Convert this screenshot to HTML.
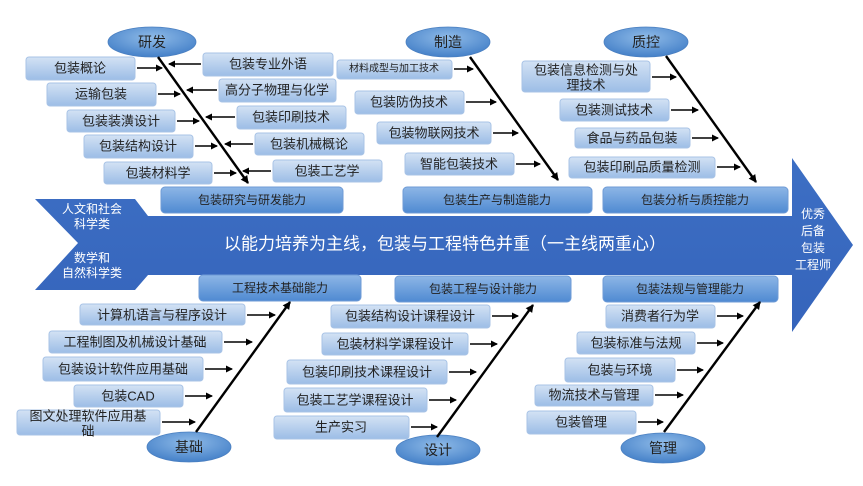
<!DOCTYPE html>
<html><head><meta charset="utf-8">
<style>
html,body{margin:0;padding:0;background:#fff;}
svg{display:block;font-family:"Liberation Sans","Noto Sans CJK SC",sans-serif;}
.b{fill:url(#gb);stroke:#a8c3e6;stroke-width:1;}
.c{fill:url(#gc);stroke:#6f9bd6;stroke-width:1;}
.e{fill:url(#ge);stroke:#4a7fc0;stroke-width:0.8;}
text{fill:#222;text-anchor:middle;dominant-baseline:central;}
.t{font-size:13px;}
.s{font-size:12px;}
.k{font-size:12px;}
.w{fill:#fff;}
.l{stroke:#000;stroke-width:2.4;fill:none;marker-end:url(#ah);}
.a{stroke:#000;stroke-width:1.6;fill:none;marker-end:url(#as);}
</style></head><body>
<svg width="863" height="486" viewBox="0 0 863 486">
<defs>
<linearGradient id="gb" x1="0" y1="0" x2="0" y2="1"><stop offset="0" stop-color="#d3e2f4"/><stop offset="1" stop-color="#9cbde6"/></linearGradient>
<linearGradient id="gc" x1="0" y1="0" x2="0" y2="1"><stop offset="0" stop-color="#8db6e6"/><stop offset="1" stop-color="#4f8ad2"/></linearGradient>
<radialGradient id="ge" cx="0.5" cy="0.35" r="0.7"><stop offset="0" stop-color="#8fbbe8"/><stop offset="1" stop-color="#3f7cc6"/></radialGradient>
<linearGradient id="gm" x1="0" y1="0" x2="0" y2="1"><stop offset="0" stop-color="#3d6fc4"/><stop offset="1" stop-color="#3564bb"/></linearGradient>
<marker id="ah" markerWidth="10" markerHeight="10" refX="7" refY="4" orient="auto" markerUnits="userSpaceOnUse"><path d="M0,0 L8,4 L0,8 z" fill="#000"/></marker>
<marker id="as" markerWidth="8" markerHeight="8" refX="6" refY="3.5" orient="auto" markerUnits="userSpaceOnUse"><path d="M0,0 L7,3.5 L0,7 z" fill="#000"/></marker>
</defs>

<path d="M35,199 L135,199 L148,216 L792,216 L792,158 L853,245 L792,332 L792,275 L148,275 L135,290 L35,290 L78,243 Z" fill="url(#gm)"/>
<text class="k w" x="92" y="209">人文和社会</text>
<text class="k w" x="92" y="224">科学类</text>
<text class="k w" x="92" y="258">数学和</text>
<text class="k w" x="92" y="273">自然科学类</text>
<text class="w" x="445" y="244" style="font-size:17px">以能力培养为主线，包装与工程特色并重（一主线两重心）</text>
<text class="k w" x="813" y="214">优秀</text>
<text class="k w" x="813" y="231">后备</text>
<text class="k w" x="813" y="248">包装</text>
<text class="k w" x="813" y="265">工程师</text>

<ellipse class="e" cx="152" cy="42" rx="44" ry="15"/><text class="t" x="152" y="42" style="font-size:14px">研发</text>
<ellipse class="e" cx="448" cy="42" rx="42" ry="15"/><text class="t" x="448" y="42" style="font-size:14px">制造</text>
<ellipse class="e" cx="646" cy="42" rx="42" ry="15"/><text class="t" x="646" y="42" style="font-size:14px">质控</text>
<ellipse class="e" cx="189" cy="447" rx="42" ry="15"/><text class="t" x="189" y="447" style="font-size:14px">基础</text>
<ellipse class="e" cx="438" cy="450" rx="42" ry="15"/><text class="t" x="438" y="450" style="font-size:14px">设计</text>
<ellipse class="e" cx="663" cy="448" rx="42" ry="15"/><text class="t" x="663" y="448" style="font-size:14px">管理</text>

<rect class="c" x="161" y="187" width="182" height="26" rx="4"/><text class="s" x="252" y="200">包装研究与研发能力</text>
<rect class="c" x="403" y="187" width="189" height="26" rx="4"/><text class="s" x="497" y="200">包装生产与制造能力</text>
<rect class="c" x="603" y="187" width="185" height="26" rx="4"/><text class="s" x="695" y="200">包装分析与质控能力</text>
<rect class="c" x="199" y="275" width="162" height="26" rx="4"/><text class="s" x="280" y="288">工程技术基础能力</text>
<rect class="c" x="395" y="276" width="176" height="26" rx="4"/><text class="s" x="483" y="289">包装工程与设计能力</text>
<rect class="c" x="603" y="276" width="175" height="26" rx="4"/><text class="s" x="690" y="289">包装法规与管理能力</text>

<rect class="b" x="26" y="57" width="109" height="23" rx="3"/><text class="t" x="80" y="68">包装概论</text>
<rect class="b" x="47" y="83" width="109" height="23" rx="3"/><text class="t" x="101" y="94">运输包装</text>
<rect class="b" x="67" y="110" width="108" height="22" rx="3"/><text class="t" x="121" y="121">包装装潢设计</text>
<rect class="b" x="84" y="135" width="109" height="23" rx="3"/><text class="t" x="138" y="146">包装结构设计</text>
<rect class="b" x="104" y="162" width="108" height="22" rx="3"/><text class="t" x="158" y="173">包装材料学</text>
<rect class="b" x="203" y="53" width="130" height="23" rx="3"/><text class="t" x="268" y="64">包装专业外语</text>
<rect class="b" x="219" y="79" width="117" height="23" rx="3"/><text class="t" x="277" y="90">高分子物理与化学</text>
<rect class="b" x="237" y="106" width="109" height="23" rx="3"/><text class="t" x="291" y="117">包装印刷技术</text>
<rect class="b" x="255" y="133" width="109" height="22" rx="3"/><text class="t" x="309" y="144">包装机械概论</text>
<rect class="b" x="273" y="160" width="109" height="22" rx="3"/><text class="t" x="327" y="171">包装工艺学</text>
<path class="l" d="M158,57 L248,183"/>
<path class="a" d="M137,68 L162,68"/><path class="a" d="M158,94 L180,94"/><path class="a" d="M177,121 L199,121"/><path class="a" d="M195,146 L217,146"/><path class="a" d="M214,173 L236,173"/>
<path class="a" d="M201,64 L169,64"/><path class="a" d="M217,90 L187,90"/><path class="a" d="M235,117 L206,117"/><path class="a" d="M253,144 L225,144"/><path class="a" d="M271,171 L243,171"/>

<rect class="b" x="337" y="60" width="115" height="19" rx="3"/><text class="s" x="394" y="69" style="font-size:10px">材料成型与加工技术</text>
<rect class="b" x="355" y="91" width="109" height="23" rx="3"/><text class="t" x="409" y="102">包装防伪技术</text>
<rect class="b" x="377" y="122" width="114" height="22" rx="3"/><text class="t" x="434" y="133">包装物联网技术</text>
<rect class="b" x="405" y="153" width="109" height="22" rx="3"/><text class="t" x="459" y="164">智能包装技术</text>
<path class="l" d="M470,57 L558,180"/>
<path class="a" d="M454,69 L473,69"/><path class="a" d="M466,102 L496,102"/><path class="a" d="M493,133 L518,133"/><path class="a" d="M516,164 L540,164"/>

<rect class="b" x="522" y="61" width="128" height="31" rx="3"/><text class="t" x="586" y="70">包装信息检测与处</text><text class="t" x="586" y="85">理技术</text>
<rect class="b" x="560" y="99" width="109" height="22" rx="3"/><text class="t" x="614" y="110">包装测试技术</text>
<rect class="b" x="575" y="128" width="115" height="20" rx="3"/><text class="t" x="632" y="138">食品与药品包装</text>
<rect class="b" x="569" y="157" width="146" height="21" rx="3"/><text class="t" x="642" y="167">包装印刷品质量检测</text>
<path class="l" d="M666,56 L756,182"/>
<path class="a" d="M652,77 L676,77"/><path class="a" d="M671,110 L698,110"/><path class="a" d="M692,138 L718,138"/><path class="a" d="M717,167 L740,167"/>

<rect class="b" x="80" y="304" width="165" height="21" rx="3"/><text class="t" x="162" y="315">计算机语言与程序设计</text>
<rect class="b" x="49" y="331" width="173" height="22" rx="3"/><text class="t" x="135" y="342">工程制图及机械设计基础</text>
<rect class="b" x="43" y="357" width="160" height="24" rx="3"/><text class="t" x="123" y="369">包装设计软件应用基础</text>
<rect class="b" x="74" y="385" width="109" height="22" rx="3"/><text class="t" x="128" y="396">包装CAD</text>
<rect class="b" x="17" y="410" width="143" height="25" rx="3"/><text class="t" x="88" y="416">图文处理软件应用基</text><text class="t" x="88" y="431">础</text>
<path class="l" d="M196,432 L290,302"/>
<path class="a" d="M247,315 L275,315"/><path class="a" d="M224,342 L252,342"/><path class="a" d="M205,369 L232,369"/><path class="a" d="M185,396 L212,396"/><path class="a" d="M162,422 L195,422"/>

<rect class="b" x="331" y="305" width="159" height="23" rx="3"/><text class="t" x="410" y="316">包装结构设计课程设计</text>
<rect class="b" x="322" y="333" width="146" height="22" rx="3"/><text class="t" x="395" y="344">包装材料学课程设计</text>
<rect class="b" x="287" y="360" width="160" height="24" rx="3"/><text class="t" x="367" y="372">包装印刷技术课程设计</text>
<rect class="b" x="284" y="388" width="143" height="24" rx="3"/><text class="t" x="355" y="400">包装工艺学课程设计</text>
<rect class="b" x="274" y="416" width="135" height="23" rx="3"/><text class="t" x="341" y="427">生产实习</text>
<path class="l" d="M437,437 L533,305"/>
<path class="a" d="M492,316 L518,316"/><path class="a" d="M470,344 L497,344"/><path class="a" d="M449,372 L476,372"/><path class="a" d="M429,400 L456,400"/><path class="a" d="M411,427 L437,427"/>

<rect class="b" x="606" y="305" width="109" height="23" rx="3"/><text class="t" x="660" y="316">消费者行为学</text>
<rect class="b" x="577" y="332" width="118" height="22" rx="3"/><text class="t" x="636" y="343">包装标准与法规</text>
<rect class="b" x="565" y="358" width="110" height="24" rx="3"/><text class="t" x="620" y="370">包装与环境</text>
<rect class="b" x="535" y="385" width="118" height="21" rx="3"/><text class="t" x="594" y="395">物流技术与管理</text>
<rect class="b" x="527" y="411" width="109" height="23" rx="3"/><text class="t" x="581" y="422">包装管理</text>
<path class="l" d="M664,432 L760,302"/>
<path class="a" d="M717,316 L743,316"/><path class="a" d="M697,343 L723,343"/><path class="a" d="M677,370 L703,370"/><path class="a" d="M655,395 L683,395"/><path class="a" d="M638,422 L663,422"/>
</svg>
</body></html>
